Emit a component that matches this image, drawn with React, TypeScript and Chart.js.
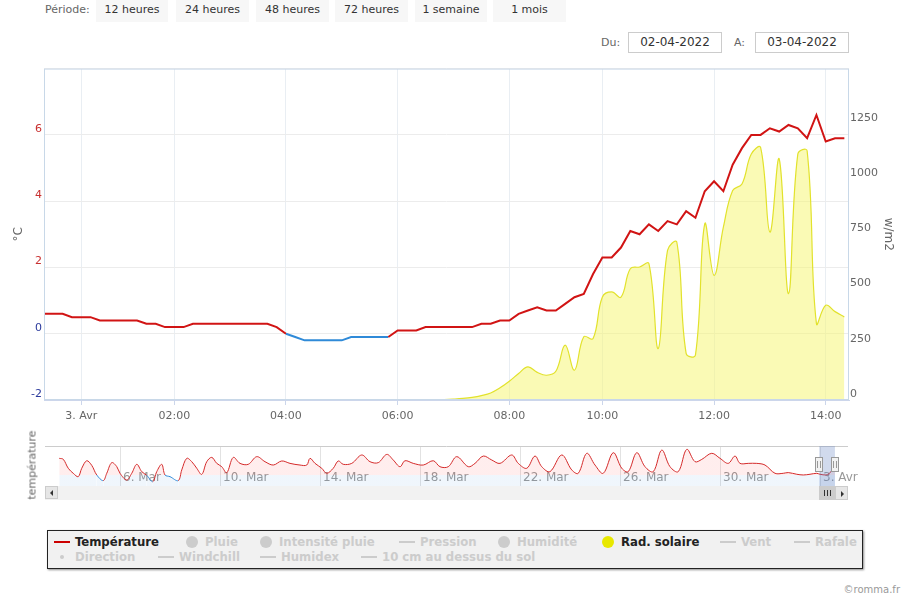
import React, { useEffect, useRef } from 'react';
import { Chart, registerables } from 'chart.js';
Chart.register(...registerables);
Chart.defaults.font.family = '"DejaVu Sans", Verdana, sans-serif';

// ---------- DATA ----------
// main chart: one point every 10 minutes (ordinal axis), 2 Apr 23:20 -> 3 Apr 14:20
const TICK_INDEX = [4, 14, 26, 38, 50, 60, 72, 84];
const TICK_LABELS = ['3. Avr', '02:00', '04:00', '06:00', '08:00', '10:00', '12:00', '14:00'];

const TEMPERATURE = [
  0.6, 0.6, 0.6, 0.5, 0.5, 0.5, 0.4, 0.4, 0.4, 0.4,
  0.4, 0.3, 0.3, 0.2, 0.2, 0.2, 0.3, 0.3, 0.3, 0.3,
  0.3, 0.3, 0.3, 0.3, 0.3, 0.2, 0.0, -0.1, -0.2, -0.2,
  -0.2, -0.2, -0.2, -0.1, -0.1, -0.1, -0.1, -0.1, 0.1, 0.1,
  0.1, 0.2, 0.2, 0.2, 0.2, 0.2, 0.2, 0.3, 0.3, 0.4,
  0.4, 0.6, 0.7, 0.8, 0.7, 0.7, 0.9, 1.1, 1.2, 1.8,
  2.3, 2.3, 2.6, 3.1, 3.0, 3.3, 3.1, 3.4, 3.3, 3.7,
  3.5, 4.3, 4.6, 4.3, 5.1, 5.6, 6.0, 6.0, 6.2, 6.1,
  6.3, 6.2, 5.9, 6.6, 5.8, 5.9, 5.9,
];

const RADIATION = [
  0, 0, 0, 0, 0, 0, 0, 0, 0, 0,
  0, 0, 0, 0, 0, 0, 0, 0, 0, 0,
  0, 0, 0, 0, 0, 0, 0, 0, 0, 0,
  0, 0, 0, 0, 0, 0, 0, 0, 0, 0,
  0, 0, 1, 2, 4, 7, 12, 20, 32, 55,
  85, 120, 150, 125, 112, 130, 248, 135, 286, 278,
  466, 489, 466, 594, 602, 617, 233, 677, 714, 211,
  203, 797, 564, 782, 948, 978, 1113, 1143, 760, 1091,
  481, 1113, 1128, 346, 429, 400, 376,
];

// navigator: days since 3 Mar 00:00, temperature °C
const NAV_DAYS = [
  0.57, 0.73, 0.93, 1.13, 1.33, 1.47, 1.67, 1.87, 2.07, 2.33,
  2.47, 2.67, 2.87, 3.0, 3.27, 3.47, 3.67, 3.87, 4.07, 4.31,
  4.47, 4.67, 4.8, 5.0, 5.33, 5.47, 5.67, 5.87, 6.07, 6.27,
  6.47, 6.67, 6.87, 7.07, 7.27, 7.53, 7.8, 8.13, 8.47, 8.8,
  9.13, 9.47, 9.8, 10.2, 10.47, 10.6, 10.8, 11.07, 11.27, 11.53,
  11.73, 11.93, 12.27, 12.67, 13.0, 13.33, 13.67, 13.93, 14.2, 14.4,
  14.73, 15.13, 15.53, 15.8, 16.13, 16.47, 16.93, 17.2, 17.53, 17.87,
  18.2, 18.67, 18.93, 19.27, 19.6, 19.87, 20.2, 20.67, 21.07, 21.33,
  21.67, 22.0, 22.33, 22.73, 23.07, 23.33, 23.67, 24.0, 24.33, 24.67,
  25.0, 25.33, 25.67, 26.0, 26.27, 26.67, 27.0, 27.33, 27.6, 27.8,
  28.13, 28.47, 28.8, 29.2, 29.53, 29.73, 30.07, 30.33, 30.6, 30.87,
  31.0, 31.24, 31.36, 31.48, 31.6,
];
const NAV_TEMPS = [
  13.9, 13.1, 5.6, 1.4, -1.4, 5.6, 11.9, 8.0, 0.0, -4.7,
  1.4, 10.3, 7.0, 1.4, -4.2, 1.4, 8.9, 2.8, -0.3, -5.6,
  2.8, 8.9, 0.0, -1.4, -4.7, 4.2, 13.9, 11.1, 5.6, 0.5,
  11.1, 14.7, 9.7, 6.9, 1.9, 14.7, 9.7, 8.9, 15.3, 11.1,
  8.3, 11.7, 9.7, 8.3, 8.3, 13.9, 9.7, 5.6, 1.4, 5.6,
  11.7, 8.9, 9.7, 16.7, 11.1, 10.3, 17.2, 12.5, 6.9, 11.9,
  9.7, 8.3, 11.9, 6.9, 6.9, 15.3, 6.9, 9.7, 15.8, 12.5,
  9.7, 16.7, 9.7, 5.6, 15.8, 6.9, 2.8, 16.7, 4.2, 1.4,
  18.1, 8.3, 1.4, 18.6, 5.6, 2.8, 18.6, 6.9, 2.8, 20.8,
  6.9, 2.8, 21.4, 11.1, 13.0, 18.1, 13.9, 9.7, 15.8, 9.7,
  9.7, 9.7, 8.3, 1.4, 1.4, 2.0, 0.6, 0.0, 0.6, 1.4,
  0.6, 0.0, 1.0, 4.0, 6.0,
];
const NAV_TICK_DAYS = [3, 7, 11, 15, 19, 23, 27, 31];
const NAV_TICK_LABELS = ['6. Mar', '10. Mar', '14. Mar', '18. Mar', '22. Mar', '26. Mar', '30. Mar', '3. Avr'];
const NAV_SELECTION = [30.972, 31.597];

const PERIODS = ['12 heures', '24 heures', '48 heures', '72 heures', '1 semaine', '1 mois'];
const DATE_FROM = '02-04-2022';
const DATE_TO = '03-04-2022';

const LEGEND_ROW1 = ['Température', 'Pluie', 'Intensité pluie', 'Pression', 'Humidité', 'Rad. solaire', 'Vent', 'Rafale'];
const LEGEND_ROW2 = ['Direction', 'Windchill', 'Humidex', '10 cm au dessus du sol'];
const LEGEND_SYMBOL1 = ['line', 'circle', 'circle', 'line', 'circle', 'circle', 'line', 'line'];
const LEGEND_SYMBOL2 = ['dot', 'line', 'line', 'line'];
const LEGEND_ACTIVE = ['Température', 'Rad. solaire'];

// ---------- LAYOUT / STYLE ----------
const RED = '#d11414';
const BLUE = '#2f8ad8';
const BUTTON_X = [96, 176, 256, 335, 415, 493];
const BUTTON_W = [72, 73, 73, 73, 72, 73];
const LEGEND_X1 = [54, 184, 258, 399, 496, 600, 720, 794];
const LEGEND_X2 = [54, 158, 260, 361];
const LEGEND_COLOR: Record<string, string> = { 'Température': '#cc0000', 'Rad. solaire': '#e8e800' };

function MainChart() {
  const ref = useRef<HTMLCanvasElement>(null);
  useEffect(() => {
    const canvas = ref.current!;
    const borderPlugin = {
      id: 'plotBorder',
      afterDatasetsDraw(chart: any) {
        const { ctx, chartArea: a } = chart;
        ctx.save();
        ctx.strokeStyle = '#c8d8e8';
        ctx.lineWidth = 1;
        ctx.strokeRect(a.left + 0.5, a.top + 0.5, a.right - a.left - 1, a.bottom - a.top - 1);
        ctx.restore();
      },
    };
    const chart = new Chart(canvas, {
      type: 'line',
      data: {
        datasets: [
          {
            label: 'Température',
            data: TEMPERATURE.map((y, x) => ({ x, y })),
            yAxisID: 'yT',
            borderColor: RED,
            borderWidth: 2,
            pointRadius: 0,
            tension: 0,
            fill: false,
            segment: {
              borderColor: (c: any) => (c.p0.parsed.y <= 0 && c.p1.parsed.y <= 0 ? BLUE : RED),
            },
          },
          {
            label: 'Rad. solaire',
            data: RADIATION.map((y, x) => ({ x, y })),
            yAxisID: 'yR',
            borderColor: '#e2e22c',
            borderWidth: 1.2,
            backgroundColor: 'rgba(246,246,120,0.55)',
            fill: 'origin',
            pointRadius: 0,
            tension: 0.4,
          },
        ],
      },
      options: {
        responsive: false,
        animation: false,
        devicePixelRatio: 1,
        layout: { padding: { top: 7, left: 0, right: 0, bottom: 0 } },
        plugins: { legend: { display: false }, tooltip: { enabled: false } },
        scales: {
          x: {
            type: 'linear',
            min: 0,
            max: 86.5,
            afterBuildTicks: (s: any) => {
              s.ticks = TICK_INDEX.map((v) => ({ value: v }));
            },
            afterFit: (s: any) => {
              s.height = 30;
            },
            ticks: {
              autoSkip: false,
              maxRotation: 0,
              padding: 5,
              color: '#666',
              font: { size: 11 },
              callback: (_v: any, i: number) => TICK_LABELS[i],
            },
            grid: { color: '#e9eef3', tickColor: '#ccd6eb', tickLength: 5 },
            border: { color: '#ccd6eb' },
          },
          yT: {
            position: 'left',
            min: -2,
            max: 8,
            afterFit: (s: any) => {
              s.width = 44;
            },
            ticks: {
              stepSize: 2,
              padding: 2,
              labelOffset: -6,
              font: { size: 11 },
              color: (c: any) => (c.tick && c.tick.value <= 0 ? '#2b3a9c' : '#c83030'),
              callback: (v: any) => (v === 8 ? '' : String(v)),
            },
            grid: { color: '#ececec', drawTicks: false },
            border: { display: false },
            title: { display: true, text: '°C', color: '#666', font: { size: 12 }, padding: { top: 12, bottom: 0 } },
          },
          yR: {
            position: 'right',
            min: 0,
            max: 1500,
            afterFit: (s: any) => {
              s.width = 61;
            },
            ticks: {
              stepSize: 250,
              padding: 1,
              labelOffset: -6,
              color: '#666',
              font: { size: 11 },
              callback: (v: any) => (v === 1500 ? '' : String(v)),
            },
            grid: { drawOnChartArea: false, drawTicks: false },
            border: { display: false },
            title: { display: true, text: 'w/m2', color: '#666', font: { size: 12 }, padding: { top: 15, bottom: 0 } },
          },
        },
      } as any,
      plugins: [borderPlugin],
    });
    return () => chart.destroy();
  }, []);
  return (
    <canvas
      ref={ref}
      width={910}
      height={370}
      style={{ position: 'absolute', left: 0, top: 60, width: 910, height: 370 }}
    />
  );
}

function NavChart() {
  const ref = useRef<HTMLCanvasElement>(null);
  useEffect(() => {
    const canvas = ref.current!;
    const navPlugin = {
      id: 'navDecor',
      afterDraw(chart: any) {
        const { ctx, chartArea: a, scales } = chart;
        ctx.save();
        ctx.strokeStyle = '#cccccc';
        ctx.lineWidth = 1;
        ctx.beginPath();
        ctx.moveTo(a.left, a.top + 0.5);
        ctx.lineTo(a.right, a.top + 0.5);
        ctx.stroke();
        const x0 = scales.x.getPixelForValue(NAV_SELECTION[0]);
        const x1 = scales.x.getPixelForValue(NAV_SELECTION[1]);
        ctx.fillStyle = 'rgba(102,133,194,0.3)';
        ctx.fillRect(x0, a.top, x1 - x0, a.bottom - a.top);
        [x0, x1].forEach((hx) => {
          const hy = a.top + 11;
          ctx.fillStyle = '#f2f2f2';
          ctx.strokeStyle = '#999999';
          ctx.fillRect(Math.round(hx) - 3.5, hy, 7, 15);
          ctx.strokeRect(Math.round(hx) - 3.5, hy + 0.5, 7, 14);
          ctx.beginPath();
          ctx.moveTo(Math.round(hx) - 1.5, hy + 4);
          ctx.lineTo(Math.round(hx) - 1.5, hy + 11);
          ctx.moveTo(Math.round(hx) + 1.5, hy + 4);
          ctx.lineTo(Math.round(hx) + 1.5, hy + 11);
          ctx.stroke();
        });
        ctx.restore();
      },
    };
    const chart = new Chart(canvas, {
      type: 'line',
      data: {
        datasets: [
          {
            data: NAV_DAYS.map((x, i) => ({ x, y: NAV_TEMPS[i] })),
            borderWidth: 1,
            pointRadius: 0,
            tension: 0.35,
            fill: 'start',
            borderColor: RED,
            segment: {
              borderColor: (c: any) => (c.p0.parsed.y <= 0 && c.p1.parsed.y <= 0 ? BLUE : '#d42a2a'),
            },
            backgroundColor: (c: any) => {
              const ch = c.chart;
              const a = ch.chartArea;
              if (!a) return 'rgba(0,0,0,0)';
              const y0 = ch.scales.y.getPixelForValue(0);
              const t = Math.min(1, Math.max(0, (y0 - a.top) / (a.bottom - a.top)));
              const g = ch.ctx.createLinearGradient(0, a.top, 0, a.bottom);
              g.addColorStop(0, 'rgba(255,60,60,0.09)');
              g.addColorStop(t, 'rgba(255,60,60,0.09)');
              g.addColorStop(t, 'rgba(60,140,220,0.08)');
              g.addColorStop(1, 'rgba(60,140,220,0.08)');
              return g;
            },
          },
        ],
      },
      options: {
        responsive: false,
        animation: false,
        devicePixelRatio: 1,
        layout: { padding: { top: 6, left: 45, right: 62, bottom: 0 } },
        plugins: { legend: { display: false }, tooltip: { enabled: false } },
        scales: {
          x: {
            type: 'linear',
            min: 0,
            max: 32.12,
            afterBuildTicks: (s: any) => {
              s.ticks = NAV_TICK_DAYS.map((v) => ({ value: v }));
            },
            afterFit: (s: any) => {
              s.height = 4;
            },
            ticks: {
              autoSkip: false,
              maxRotation: 0,
              mirror: true,
              align: 'start',
              labelOffset: 3,
              padding: 1,
              color: '#999',
              font: { size: 12 },
              callback: (_v: any, i: number) => NAV_TICK_LABELS[i],
            },
            grid: { color: '#e2e2e2', drawTicks: false },
            border: { display: false },
          },
          y: { display: false, min: -9.2, max: 24.2 },
        },
      } as any,
      plugins: [navPlugin],
    });
    return () => chart.destroy();
  }, []);
  return (
    <canvas
      ref={ref}
      width={910}
      height={50}
      style={{ position: 'absolute', left: 0, top: 440, width: 910, height: 50 }}
    />
  );
}

const abs = (s: React.CSSProperties): React.CSSProperties => ({ position: 'absolute', ...s });

function LegendItem({ name, symbol, x, y }: { name: string; symbol: string; x: number; y: number }) {
  const active = LEGEND_ACTIVE.includes(name);
  const col = active ? LEGEND_COLOR[name] : '#cccccc';
  let sym: React.ReactNode;
  if (symbol === 'line') sym = <div style={abs({ left: x, top: y - 1, width: 16, height: 2, background: col })} />;
  else if (symbol === 'circle')
    sym = <div style={abs({ left: x + 2, top: y - 6, width: 12, height: 12, borderRadius: 6, background: col })} />;
  else sym = <div style={abs({ left: x + 6, top: y - 2, width: 4, height: 4, borderRadius: 2, background: col })} />;
  return (
    <>
      {sym}
      <div
        style={abs({
          left: x + 21,
          top: y - 9,
          height: 18,
          lineHeight: '18px',
          whiteSpace: 'nowrap',
          fontFamily: '"DejaVu Sans Condensed", "DejaVu Sans", sans-serif',
          fontStretch: 'condensed',
          fontWeight: 'bold',
          fontSize: 13,
          color: active ? '#222' : '#cccccc',
        })}
      >
        {name}
      </div>
    </>
  );
}

export default function App() {
  return (
    <div
      style={{
        position: 'absolute',
        left: 0,
        top: 0,
        width: 910,
        height: 600,
        background: '#fff',
        fontFamily: '"DejaVu Sans", Verdana, sans-serif',
        overflow: 'hidden',
      }}
    >
      {/* period selector */}
      <div style={abs({ left: 45, top: -1, height: 22, lineHeight: '22px', fontSize: 11, color: '#666' })}>Période:</div>
      {PERIODS.map((p, i) => (
        <div
          key={p}
          style={abs({
            left: BUTTON_X[i],
            top: 0,
            width: BUTTON_W[i],
            height: 22,
            lineHeight: '19px',
            background: '#f7f7f7',
            textAlign: 'center',
            fontSize: 11,
            color: '#333',
          })}
        >
          {p}
        </div>
      ))}
      {/* date range */}
      <div style={abs({ left: 601, top: 32, height: 22, lineHeight: '22px', fontSize: 11, color: '#666' })}>Du:</div>
      <div
        style={abs({
          left: 628,
          top: 32,
          width: 92,
          height: 19,
          border: '1px solid #cccccc',
          lineHeight: '19px',
          textAlign: 'center',
          fontSize: 12,
          color: '#333',
        })}
      >
        {DATE_FROM}
      </div>
      <div style={abs({ left: 734, top: 32, height: 22, lineHeight: '22px', fontSize: 11, color: '#666' })}>A:</div>
      <div
        style={abs({
          left: 755,
          top: 32,
          width: 92,
          height: 19,
          border: '1px solid #cccccc',
          lineHeight: '19px',
          textAlign: 'center',
          fontSize: 12,
          color: '#333',
        })}
      >
        {DATE_TO}
      </div>

      <MainChart />
      <NavChart />

      {/* navigator label */}
      <div
        style={abs({
          left: 32,
          top: 465,
          transform: 'translate(-50%, -50%) rotate(-90deg)',
          fontSize: 11,
          color: '#666',
          whiteSpace: 'nowrap',
        })}
      >
        température
      </div>

      {/* scrollbar */}
      <div style={abs({ left: 45, top: 486, width: 803, height: 14, background: '#f2f2f2' })} />
      <div style={abs({ left: 45, top: 486, width: 13, height: 13, background: '#e6e6e6', border: '1px solid #cccccc', boxSizing: 'border-box' })}>
        <div style={abs({ left: 4, top: 3, width: 0, height: 0, borderTop: '3px solid transparent', borderBottom: '3px solid transparent', borderRight: '3px solid #333' })} />
      </div>
      <div style={abs({ left: 819, top: 486, width: 16, height: 14, background: '#cccccc' })}>
        {[5, 8, 11].map((lx) => (
          <div key={lx} style={abs({ left: lx, top: 4, width: 1, height: 6, background: '#333' })} />
        ))}
      </div>
      <div style={abs({ left: 835, top: 486, width: 13, height: 14, background: '#e6e6e6', border: '1px solid #cccccc', boxSizing: 'border-box' })}>
        <div style={abs({ left: 5, top: 4, width: 0, height: 0, borderTop: '3px solid transparent', borderBottom: '3px solid transparent', borderLeft: '3px solid #333' })} />
      </div>

      {/* legend */}
      <div
        style={abs({
          left: 47,
          top: 530,
          width: 814,
          height: 37,
          border: '1px solid #222',
          background: '#f1f1f1',
          boxShadow: '1px 1px 2px rgba(0,0,0,0.45)',
        })}
      />
      {LEGEND_ROW1.map((n, i) => (
        <LegendItem key={n} name={n} symbol={LEGEND_SYMBOL1[i]} x={LEGEND_X1[i]} y={542} />
      ))}
      {LEGEND_ROW2.map((n, i) => (
        <LegendItem key={n} name={n} symbol={LEGEND_SYMBOL2[i]} x={LEGEND_X2[i]} y={557} />
      ))}

      <div style={abs({ right: 10, top: 584, fontSize: 10, color: '#999' })}>©romma.fr</div>
    </div>
  );
}
